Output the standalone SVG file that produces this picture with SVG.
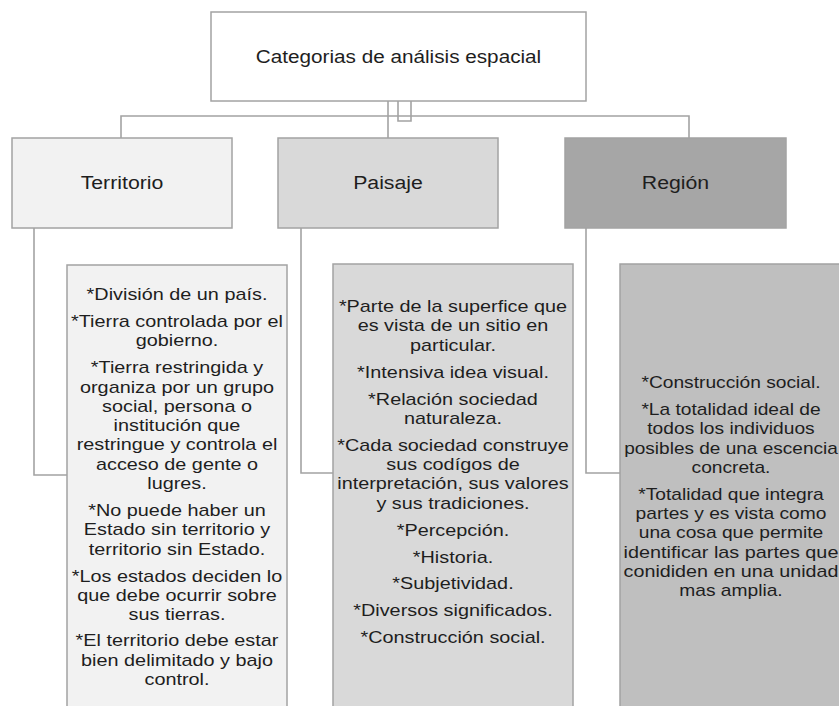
<svg xmlns="http://www.w3.org/2000/svg" width="839" height="706" viewBox="0 0 839 706">
<style>
.box{stroke:#a3a3a3;stroke-width:1.5}
.c{fill:none;stroke:#a3a3a3;stroke-width:1.6}
text{font-family:"Liberation Sans",Arial,sans-serif;fill:#1e1e1e;text-anchor:middle}
.t{font-size:18.5px}
.l{font-size:19px}
.b{font-size:16px}
</style>
<rect width="839" height="706" fill="#ffffff"/>
<g id="connectors">
<path class="c" d="M121,138V116H689V138"/>
<path class="c" d="M388,101V138"/>
<path class="c" d="M398,101V121H411V101"/>
<path class="c" d="M34,228V475H67"/>
<path class="c" d="M301,228V473H333"/>
<path class="c" d="M586,228V473H620"/>
</g>
<g id="root">
<rect class="box" x="211" y="12" width="375" height="89" fill="#ffffff"/>
<g transform="translate(398.5,0) scale(1.12,1)"><text class="t" x="0" y="63">Categorias de análisis espacial</text></g>
</g>
<g id="territorio">
<rect class="box" x="12" y="138" width="220" height="90" fill="#f2f2f2"/>
<g transform="translate(122,0) scale(1.12,1)"><text class="l" x="0" y="189">Territorio</text></g>
</g>
<g id="paisaje">
<rect class="box" x="278" y="138" width="220" height="90" fill="#d9d9d9"/>
<g transform="translate(388,0) scale(1.12,1)"><text class="l" x="0" y="189">Paisaje</text></g>
</g>
<g id="region">
<rect class="box" x="565" y="138" width="221" height="90" fill="#a6a6a6"/>
<g transform="translate(675.5,0) scale(1.12,1)"><text class="l" x="0" y="189">Región</text></g>
</g>
<g id="territorio-detalle">
<rect class="box" x="67" y="265" width="220" height="460" fill="#f2f2f2"/>
<g transform="translate(177,0) scale(1.24,1)">
<text class="b" x="0" y="300">*División de un país.</text>
<text class="b" x="0" y="327">*Tierra controlada por el</text>
<text class="b" x="0" y="346.3">gobierno.</text>
<text class="b" x="0" y="373.3">*Tierra restringida y</text>
<text class="b" x="0" y="392.6">organiza por un grupo</text>
<text class="b" x="0" y="411.9">social, persona o</text>
<text class="b" x="0" y="431.2">institución que</text>
<text class="b" x="0" y="450.5">restringue y controla el</text>
<text class="b" x="0" y="469.8">acceso de gente o</text>
<text class="b" x="0" y="489.1">lugres.</text>
<text class="b" x="0" y="516.1">*No puede haber un</text>
<text class="b" x="0" y="535.4">Estado sin territorio y</text>
<text class="b" x="0" y="554.7">territorio sin Estado.</text>
<text class="b" x="0" y="581.7">*Los estados deciden lo</text>
<text class="b" x="0" y="601">que debe ocurrir sobre</text>
<text class="b" x="0" y="620.3">sus tierras.</text>
<text class="b" x="0" y="646.5">*El territorio debe estar</text>
<text class="b" x="0" y="665.8">bien delimitado y bajo</text>
<text class="b" x="0" y="685">control.</text>
</g>
</g>
<g id="paisaje-detalle">
<rect class="box" x="333" y="264" width="240" height="460" fill="#d9d9d9"/>
<g transform="translate(453,0) scale(1.24,1)">
<text class="b" x="0" y="312">*Parte de la superfice que</text>
<text class="b" x="0" y="331.3">es vista de un sitio en</text>
<text class="b" x="0" y="350.6">particular.</text>
<text class="b" x="0" y="377.6">*Intensiva idea visual.</text>
<text class="b" x="0" y="404.6">*Relación sociedad</text>
<text class="b" x="0" y="423.9">naturaleza.</text>
<text class="b" x="0" y="450.9">*Cada sociedad construye</text>
<text class="b" x="0" y="470.2">sus codígos de</text>
<text class="b" x="0" y="489.5">interpretación, sus valores</text>
<text class="b" x="0" y="508.8">y sus tradiciones.</text>
<text class="b" x="0" y="535.8">*Percepción.</text>
<text class="b" x="0" y="562.6">*Historia.</text>
<text class="b" x="0" y="589.4">*Subjetividad.</text>
<text class="b" x="0" y="616.2">*Diversos significados.</text>
<text class="b" x="0" y="643">*Construcción social.</text>
</g>
</g>
<g id="region-detalle">
<rect class="box" x="620" y="264" width="230" height="460" fill="#bfbfbf"/>
<g transform="translate(731,0) scale(1.2,1)">
<text class="b" x="0" y="388">*Construcción social.</text>
<text class="b" x="0" y="415">*La totalidad ideal de</text>
<text class="b" x="0" y="434.3">todos los individuos</text>
<text class="b" x="0" y="453.6" textLength="178" lengthAdjust="spacingAndGlyphs">posibles de una escencia</text>
<text class="b" x="0" y="472.9">concreta.</text>
<text class="b" x="0" y="499.9">*Totalidad que integra</text>
<text class="b" x="0" y="519.2">partes y es vista como</text>
<text class="b" x="0" y="538.5">una cosa que permite</text>
<text class="b" x="0" y="557.8" textLength="179" lengthAdjust="spacingAndGlyphs">identificar las partes que</text>
<text class="b" x="0" y="577.1" textLength="179" lengthAdjust="spacingAndGlyphs">conididen en una unidad</text>
<text class="b" x="0" y="596.4">mas amplia.</text>
</g>
</g>
</svg>
